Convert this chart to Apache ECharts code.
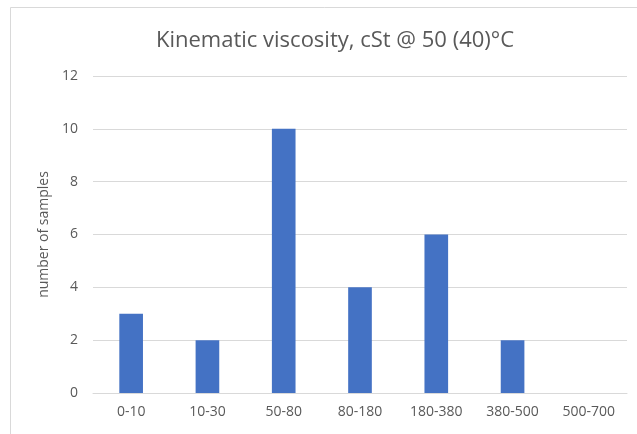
<!DOCTYPE html>
<html>
<head>
<meta charset="utf-8">
<style>
  html, body { margin: 0; padding: 0; background: #ffffff; }
  #chart { width: 637px; height: 434px; }
</style>
<script src="https://cdn.jsdelivr.net/npm/echarts@6/dist/echarts.min.js"></script>
</head>
<body>
<div id="chart"></div>
<script>
// Viscosity ranges (cSt) and how many samples fall in each
const categories = ['0-10', '10-30', '50-80', '80-180', '180-380', '380-500', '500-700'];
const sampleCounts = [3, 2, 10, 4, 6, 2, 0];
const yTicks = { min: 0, max: 12, interval: 2 };

const textColor = '#595959';
const fontFamily = 'Open Sans, Noto Sans, sans-serif';

const chart = echarts.init(document.getElementById('chart'), null, { renderer: 'canvas' });

chart.setOption({
  animation: false,
  backgroundColor: '#ffffff',
  title: {
    text: 'Kinematic viscosity, cSt @ 50 (40)°C',
    left: 330,
    textAlign: 'center',
    top: 25,
    textStyle: { color: textColor, fontSize: 22, fontWeight: 'normal', fontFamily: fontFamily }
  },
  graphic: [{
    type: 'rect',
    silent: true,
    shape: { x: 10.5, y: 7.5, width: 640, height: 440 },
    style: { fill: 'none', stroke: '#d9d9d9', lineWidth: 1 }
  }],
  grid: { left: 93, right: 10, top: 76, bottom: 41 },
  xAxis: {
    type: 'category',
    data: categories,
    axisLine: { show: true, lineStyle: { color: '#d9d9d9' } },
    axisTick: { show: false },
    axisLabel: { color: textColor, fontSize: 14, fontFamily: fontFamily, margin: 12 }
  },
  yAxis: {
    type: 'value',
    min: yTicks.min,
    max: yTicks.max,
    interval: yTicks.interval,
    name: 'number of samples',
    nameLocation: 'middle',
    nameGap: 38,
    nameTextStyle: { color: textColor, fontSize: 14, fontFamily: fontFamily },
    axisLine: { show: false },
    axisTick: { show: false },
    axisLabel: { color: textColor, fontSize: 14, fontFamily: fontFamily, margin: 15 },
    splitLine: { lineStyle: { color: '#d9d9d9', width: 1 } }
  },
  series: [{
    type: 'bar',
    data: sampleCounts,
    barWidth: '31%',
    itemStyle: { color: '#4472c4' }
  }]
});
</script>
</body>
</html>
